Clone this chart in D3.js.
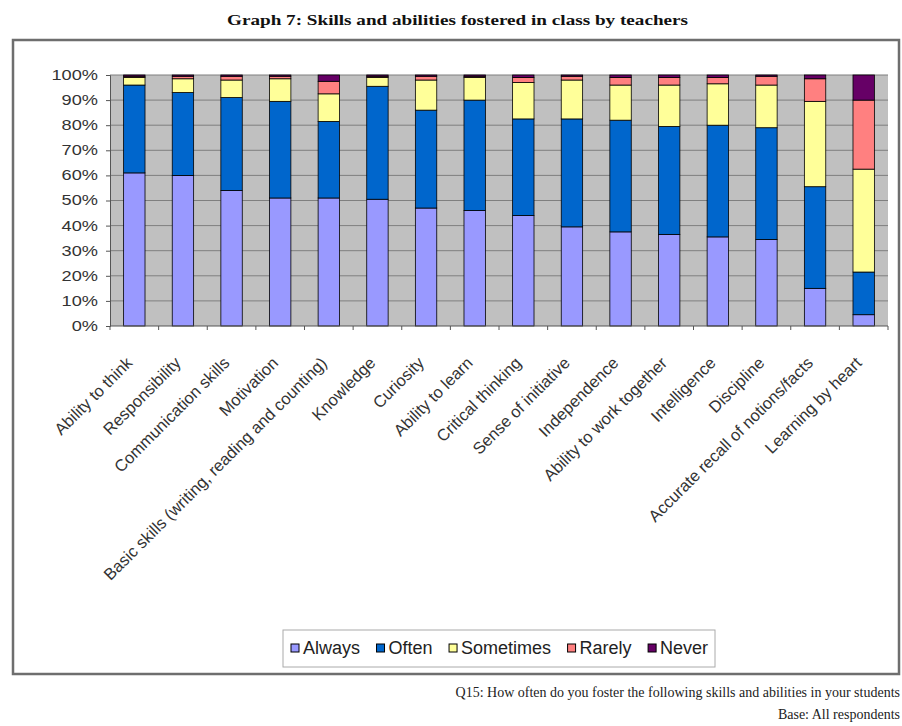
<!DOCTYPE html>
<html>
<head>
<meta charset="utf-8">
<script src="https://cdn.jsdelivr.net/npm/d3@7"></script>
<style>
  body { margin: 0; background: #fff; }
  svg { display: block; }
</style>
</head>
<body>
<svg id="chart" width="902" height="726"></svg>
<script>
const skills = [
  "Ability to think", "Responsibility", "Communication skills", "Motivation",
  "Basic skills (writing, reading and counting)", "Knowledge", "Curiosity",
  "Ability to learn", "Critical thinking", "Sense of initiative", "Independence",
  "Ability to work together", "Intelligence", "Discipline",
  "Accurate recall of notions/facts", "Learning by heart"
];
const answers = ["Always", "Often", "Sometimes", "Rarely", "Never"];

const always    = [61, 60, 54, 51, 51, 50.5, 47, 46, 44, 39.5, 37.5, 36.5, 35.5, 34.5, 15, 4.5];
const often     = [35, 33, 37, 38.5, 30.5, 45, 39, 44, 38.5, 43, 44.5, 43, 44.5, 44.5, 40.5, 17];
const sometimes = [3, 5.5, 7, 9, 11, 3.5, 12, 9, 14.5, 15.5, 14, 16.5, 16.5, 17, 34, 41];
const rarely    = [0.5, 1, 1.5, 1, 5, 0.5, 1.5, 0.5, 2, 1.5, 3, 3, 2.5, 3.5, 9, 27.5];
const never     = [0.5, 0.5, 0.5, 0.5, 2.5, 0.5, 0.5, 0.5, 1, 0.5, 1, 1, 1, 0.5, 1.5, 10];

const yTicks = [0, 10, 20, 30, 40, 50, 60, 70, 80, 90, 100];

const colors = ["#9999ff", "#0066cc", "#ffff99", "#ff8080", "#660066"];

const rows = skills.map((name, i) => ({
  name,
  Always: always[i],
  Often: often[i],
  Sometimes: sometimes[i],
  Rarely: rarely[i],
  Never: never[i]
}));

const svg = d3.select("#chart");
const plot = { left: 110, right: 888, top: 75, bottom: 326 };
const sans = "Liberation Sans, Arial, sans-serif";
const serif = "Liberation Serif, Times New Roman, serif";

// frame round the chart
svg.append("rect")
  .attr("x", 13).attr("y", 40)
  .attr("width", 886).attr("height", 634)
  .attr("fill", "#fff")
  .attr("stroke", "#6e6e6e")
  .attr("stroke-width", 2.5);

svg.append("text")
  .attr("x", 227).attr("y", 25)
  .attr("textLength", 461)
  .attr("lengthAdjust", "spacingAndGlyphs")
  .attr("font-family", serif)
  .attr("font-weight", "bold")
  .attr("font-size", 15.5)
  .attr("fill", "#111")
  .text("Graph 7: Skills and abilities fostered in class by teachers");

const x = d3.scaleBand()
  .domain(skills)
  .range([plot.left, plot.right])
  .paddingInner(0.56)
  .paddingOuter(0.28);

const y = d3.scaleLinear()
  .domain([0, 100])
  .range([plot.bottom, plot.top]);

svg.append("rect")
  .attr("x", plot.left).attr("y", plot.top)
  .attr("width", plot.right - plot.left)
  .attr("height", plot.bottom - plot.top)
  .attr("fill", "#c0c0c0");

// gridlines
svg.append("g")
  .selectAll("line")
  .data(yTicks.slice(1))
  .join("line")
  .attr("x1", plot.left).attr("x2", plot.right)
  .attr("y1", d => y(d)).attr("y2", d => y(d))
  .attr("stroke", "#7f7f7f")
  .attr("stroke-width", 1);

const series = d3.stack().keys(answers)(rows);

svg.append("g")
  .selectAll("g")
  .data(series)
  .join("g")
  .attr("fill", (d, i) => colors[i])
  .selectAll("rect")
  .data(d => d)
  .join("rect")
  .attr("x", d => x(d.data.name))
  .attr("y", d => y(d[1]))
  .attr("width", x.bandwidth())
  .attr("height", d => y(d[0]) - y(d[1]))
  .attr("stroke", "#000")
  .attr("stroke-width", 0.8);

// y axis, labels a little wide like the source
const yAxis = svg.append("g")
  .attr("transform", `translate(${plot.left},0)`)
  .call(d3.axisLeft(y).tickValues(yTicks).tickFormat(d => d + "%").tickSize(4));
yAxis.select(".domain").attr("stroke", "#555");
yAxis.selectAll(".tick line").attr("stroke", "#555");
yAxis.selectAll("text")
  .attr("x", -12 / 1.3)
  .attr("transform", "scale(1.3,1)")
  .attr("font-family", sans)
  .attr("font-size", 14)
  .attr("fill", "#333");

// x axis with ticks between categories
const step = x.step();
const xAxis = svg.append("g");
xAxis.append("line")
  .attr("x1", plot.left).attr("x2", plot.right)
  .attr("y1", plot.bottom).attr("y2", plot.bottom)
  .attr("stroke", "#555");
xAxis.selectAll(".sep")
  .data(d3.range(skills.length + 1))
  .join("line")
  .attr("x1", i => plot.left + i * step).attr("x2", i => plot.left + i * step)
  .attr("y1", plot.bottom).attr("y2", plot.bottom + 4)
  .attr("stroke", "#555");

xAxis.selectAll("text")
  .data(skills)
  .join("text")
  .attr("transform", d => `translate(${x(d) + x.bandwidth() / 2 - 1},${plot.bottom + 38}) rotate(-45)`)
  .attr("text-anchor", "end")
  .attr("font-family", sans)
  .attr("font-size", 16.5)
  .attr("fill", "#333")
  .text(d => d);

// legend
const legend = svg.append("g");
legend.append("rect")
  .attr("x", 283).attr("y", 630)
  .attr("width", 432).attr("height", 37)
  .attr("fill", "#fff")
  .attr("stroke", "#aaa");

let lx = 291;
answers.forEach((a, i) => {
  const item = legend.append("g").attr("transform", `translate(${lx},648)`);
  item.append("rect")
    .attr("x", 0).attr("y", -4)
    .attr("width", 8).attr("height", 8)
    .attr("fill", colors[i])
    .attr("stroke", "#000");
  const t = item.append("text")
    .attr("x", 12).attr("dy", "0.36em")
    .attr("font-family", sans)
    .attr("font-size", 18)
    .attr("fill", "#222")
    .text(a);
  lx += 12 + t.node().getComputedTextLength() + 16.5;
});

// footnote
svg.append("text")
  .attr("x", 900).attr("y", 697)
  .attr("text-anchor", "end")
  .attr("font-family", serif)
  .attr("font-size", 14)
  .attr("fill", "#222")
  .text("Q15: How often do you foster the following skills and abilities in your students");
svg.append("text")
  .attr("x", 900).attr("y", 719)
  .attr("text-anchor", "end")
  .attr("font-family", serif)
  .attr("font-size", 14)
  .attr("fill", "#222")
  .text("Base: All respondents");
</script>
</body>
</html>
